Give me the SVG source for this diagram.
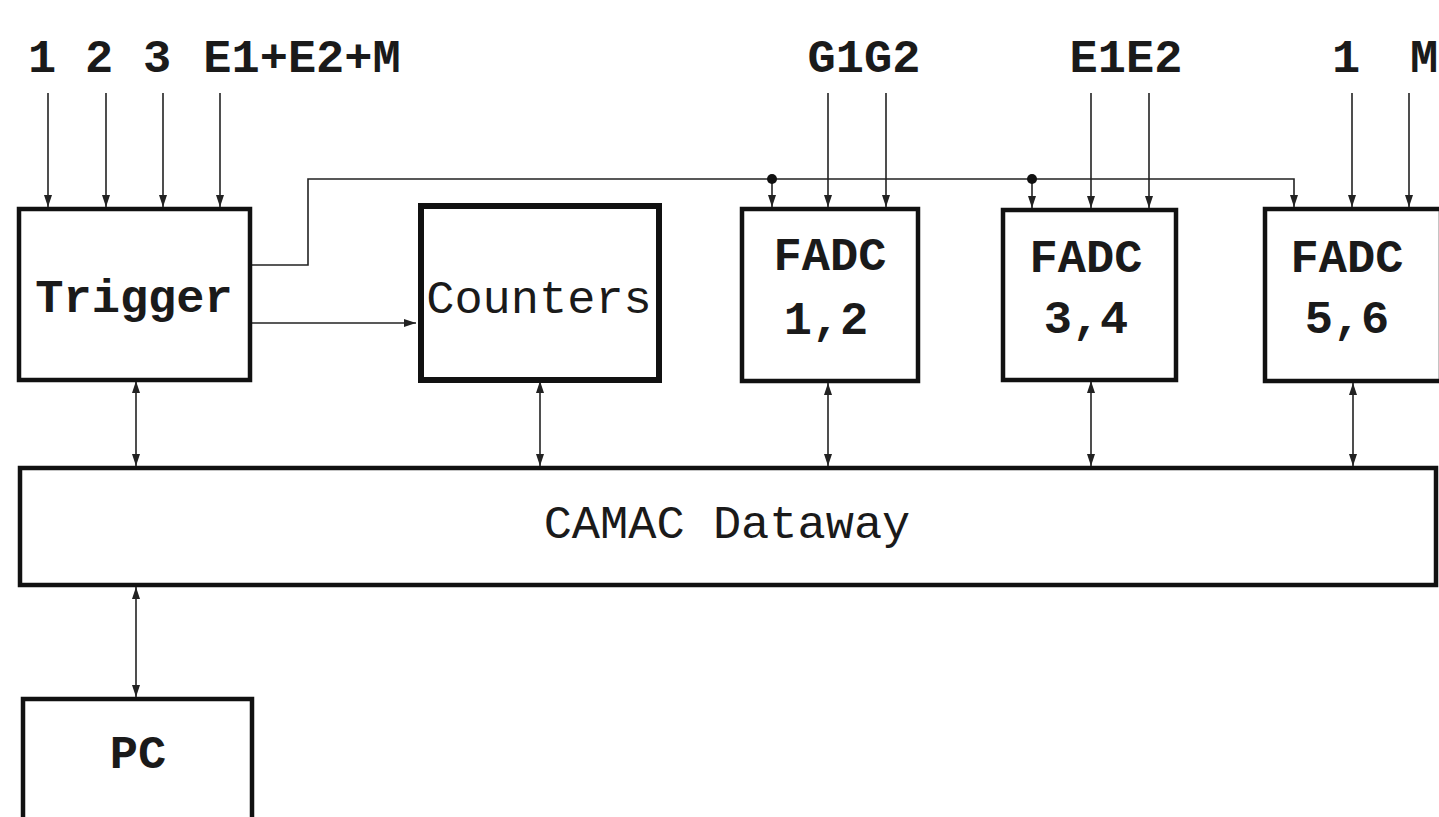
<svg xmlns="http://www.w3.org/2000/svg" width="1439" height="817" viewBox="0 0 1439 817">
<style>
.box{fill:#fff;stroke:#111;stroke-width:4.5}
.thick{stroke-width:6}
.ln{fill:none;stroke:#222;stroke-width:1.6}
.t{font-family:"Liberation Mono","Courier New",monospace;font-weight:bold;font-size:47px;fill:#1a1a1a;text-anchor:middle}
.n{font-weight:normal}
</style>
<defs>
<marker id="ah" viewBox="0 0 12 8" refX="12" refY="4" markerWidth="12" markerHeight="8" markerUnits="userSpaceOnUse" orient="auto-start-reverse">
<path d="M0,0 L12,4 L0,8 z" fill="#222"/>
</marker>
</defs>
<rect width="1439" height="817" fill="#fff"/>
<g id="labels">
<text class="t" x="42" y="72">1</text>
<text class="t" x="99" y="72">2</text>
<text class="t" x="157" y="72">3</text>
<text class="t" x="302" y="72">E1+E2+M</text>
<text class="t" x="864" y="72">G1G2</text>
<text class="t" x="1126" y="72">E1E2</text>
<text class="t" x="1346" y="72">1</text>
<text class="t" x="1424" y="72">M</text>
</g>
<g id="connectors">
<line class="ln" x1="48" y1="93" x2="48" y2="207" marker-end="url(#ah)"/>
<line class="ln" x1="106" y1="93" x2="106" y2="207" marker-end="url(#ah)"/>
<line class="ln" x1="163" y1="93" x2="163" y2="207" marker-end="url(#ah)"/>
<line class="ln" x1="220" y1="93" x2="220" y2="207" marker-end="url(#ah)"/>
<line class="ln" x1="828" y1="93" x2="828" y2="207" marker-end="url(#ah)"/>
<line class="ln" x1="886" y1="93" x2="886" y2="207" marker-end="url(#ah)"/>
<line class="ln" x1="1091" y1="93" x2="1091" y2="208" marker-end="url(#ah)"/>
<line class="ln" x1="1149" y1="93" x2="1149" y2="208" marker-end="url(#ah)"/>
<line class="ln" x1="1352" y1="93" x2="1352" y2="207" marker-end="url(#ah)"/>
<line class="ln" x1="1409" y1="93" x2="1409" y2="207" marker-end="url(#ah)"/>
<polyline class="ln" points="252,265 308,265 308,179 1294,179 1294,207" marker-end="url(#ah)"/>
<line class="ln" x1="772" y1="179" x2="772" y2="207" marker-end="url(#ah)"/>
<line class="ln" x1="1032" y1="179" x2="1032" y2="208" marker-end="url(#ah)"/>
<circle cx="772" cy="179" r="5" fill="#111"/>
<circle cx="1032" cy="179" r="5" fill="#111"/>
<line class="ln" x1="252" y1="323" x2="416" y2="323" marker-end="url(#ah)"/>
<line class="ln" x1="136" y1="381" x2="136" y2="466" marker-start="url(#ah)" marker-end="url(#ah)"/>
<line class="ln" x1="540" y1="381" x2="540" y2="466" marker-start="url(#ah)" marker-end="url(#ah)"/>
<line class="ln" x1="828" y1="383" x2="828" y2="466" marker-start="url(#ah)" marker-end="url(#ah)"/>
<line class="ln" x1="1091" y1="381" x2="1091" y2="466" marker-start="url(#ah)" marker-end="url(#ah)"/>
<line class="ln" x1="1353" y1="383" x2="1353" y2="466" marker-start="url(#ah)" marker-end="url(#ah)"/>
<line class="ln" x1="136" y1="587" x2="136" y2="697" marker-start="url(#ah)" marker-end="url(#ah)"/>
</g>
<g id="trigger">
<rect class="box" x="19" y="209" width="231" height="171"/>
<text class="t" x="134" y="312">Trigger</text>
</g>
<g id="counters">
<rect class="box thick" x="421" y="206" width="238" height="174"/>
<text class="t n" x="539" y="313">Counters</text>
</g>
<g id="fadc12">
<rect class="box" x="742" y="209" width="176" height="172"/>
<text class="t" x="830" y="270">FADC</text>
<text class="t" x="826" y="334">1,2</text>
</g>
<g id="fadc34">
<rect class="box" x="1003" y="210" width="173" height="170"/>
<text class="t" x="1086" y="272">FADC</text>
<text class="t" x="1086" y="333">3,4</text>
</g>
<g id="fadc56">
<rect class="box" x="1265" y="209" width="176" height="172"/>
<text class="t" x="1347" y="272">FADC</text>
<text class="t" x="1347" y="333">5,6</text>
</g>
<g id="camac">
<rect class="box" x="20" y="468" width="1416" height="117"/>
<text class="t n" x="727" y="538">CAMAC Dataway</text>
</g>
<g id="pc">
<rect class="box" x="23" y="699" width="229" height="125"/>
<text class="t" x="138" y="768">PC</text>
</g>
</svg>
